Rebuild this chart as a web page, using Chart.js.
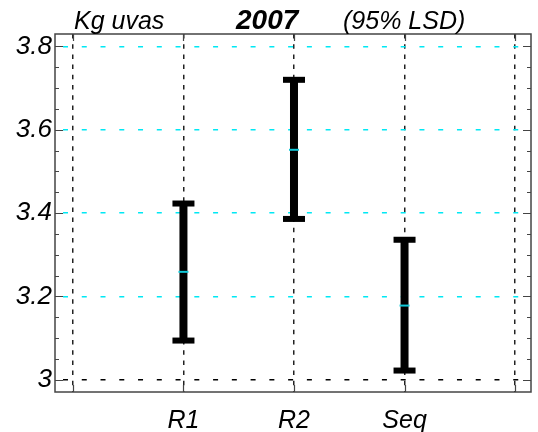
<!DOCTYPE html>
<html>
<head>
<meta charset="utf-8">
<script src="https://cdn.jsdelivr.net/npm/chart.js@4/dist/chart.umd.min.js"></script>
<style>
  html, body { margin: 0; padding: 0; background: #fff; }
  #wrap { width: 538px; height: 432px; }
</style>
</head>
<body>
<div id="wrap"><canvas id="chart" width="538" height="432"></canvas></div>
<script>
// treatment groups and their LSD intervals (kg of grapes)
const categories = ['R1', 'R2', 'Seq'];
const means = [3.259, 3.552, 3.178];
const lower = [3.094, 3.386, 3.022];
const upper = [3.423, 3.720, 3.336];

// axis positions: one vertical line per slot, outer ones unlabeled
const xTickValues = [0, 1, 2, 3, 4];
const xTickLabels = ['', 'R1', 'R2', 'Seq', ''];
const yTickValues = [3, 3.2, 3.4, 3.6, 3.8];
const yTickLabels = ['3', '3.2', '3.4', '3.6', '3.8'];

const FONT = "'Liberation Sans', Arial, sans-serif";
const CYAN = '#00e8f4';

// frame, inward tick marks and the LSD bars themselves
const lsdPlugin = {
  id: 'lsd',
  beforeDatasetsDraw(chart) {
    const { ctx, scales: { x, y } } = chart;
    ctx.save();
    ctx.fillStyle = '#000';
    ctx.strokeStyle = '#000';
    for (let i = 0; i < categories.length; i++) {
      const px = x.getPixelForValue(i + 1);
      const yt = y.getPixelForValue(upper[i]);
      const yb = y.getPixelForValue(lower[i]);
      ctx.lineWidth = 8;
      ctx.beginPath();
      ctx.moveTo(px, yt);
      ctx.lineTo(px, yb);
      ctx.stroke();
      ctx.fillRect(px - 11, yt - 3, 22, 6);
      ctx.fillRect(px - 11, yb - 3, 22, 6);
    }
    ctx.restore();
  },
  afterDraw(chart) {
    const { ctx, chartArea: a, scales: { x, y } } = chart;
    ctx.save();
    ctx.strokeStyle = '#444';
    ctx.lineWidth = 1.5;
    ctx.strokeRect(a.left, a.top, a.right - a.left, a.bottom - a.top);
    ctx.lineWidth = 1.2;
    ctx.beginPath();
    for (let k = 0; k <= 16; k++) {
      const v = 3 + k * 0.05;
      const py = Math.round(y.getPixelForValue(v)) + 0.5;
      const len = k % 4 === 0 ? 8 : 4;
      ctx.moveTo(a.left, py); ctx.lineTo(a.left + len, py);
      ctx.moveTo(a.right, py); ctx.lineTo(a.right - len, py);
    }
    xTickValues.forEach(v => {
      const px = Math.round(x.getPixelForValue(v)) + 0.5;
      ctx.moveTo(px, a.bottom); ctx.lineTo(px, a.bottom - 7);
      ctx.moveTo(px, a.top); ctx.lineTo(px, a.top + 7);
    });
    ctx.stroke();

    // heading: label, year, interval note
    ctx.fillStyle = '#000';
    ctx.textBaseline = 'alphabetic';
    ctx.textAlign = 'left';
    ctx.font = 'italic 25px ' + FONT;
    ctx.fillText('Kg uvas', 74, 29);
    ctx.font = 'italic bold 28px ' + FONT;
    ctx.fillText('2007', 236, 29);
    ctx.font = 'italic 25px ' + FONT;
    ctx.fillText('(95% LSD)', 343, 29);
    ctx.restore();
  }
};

const ctx = document.getElementById('chart').getContext('2d');
new Chart(ctx, {
  type: 'scatter',
  data: {
    datasets: [{
      label: 'media',
      data: means.map((m, i) => ({ x: i + 1, y: m })),
      pointStyle: 'line',
      radius: 5,
      borderColor: '#10c8d8',
      borderWidth: 2
    }]
  },
  options: {
    responsive: false,
    animation: false,
    devicePixelRatio: 1,
    layout: { padding: { top: 34, right: 5, left: 0, bottom: 0 } },
    plugins: { legend: { display: false }, tooltip: { enabled: false } },
    scales: {
      x: {
        type: 'linear',
        min: -0.162,
        max: 4.144,
        afterBuildTicks: s => { s.ticks = xTickValues.map(v => ({ value: v })); },
        afterFit: s => { s.height = 40; },
        ticks: {
          autoSkip: false,
          maxRotation: 0,
          padding: 14,
          color: '#000',
          font: { family: FONT, size: 25, style: 'italic' },
          callback: v => xTickLabels[xTickValues.indexOf(v)]
        },
        grid: { color: '#222', lineWidth: 1.5, drawTicks: false },
        border: { display: false, dash: [4.5, 5.7] }
      },
      y: {
        type: 'linear',
        min: 2.9705,
        max: 3.830,
        afterBuildTicks: s => { s.ticks = yTickValues.map(v => ({ value: v })); },
        afterFit: s => { s.width = 55; },
        ticks: {
          padding: 3,
          color: '#000',
          font: { family: FONT, size: 26, style: 'italic' },
          callback: v => yTickLabels[yTickValues.indexOf(v)]
        },
        grid: {
          color: c => (c.index === 0 ? '#000' : CYAN),
          lineWidth: 1.4,
          drawTicks: false
        },
        border: { display: false, dash: [5, 13.76], dashOffset: 10.76 }
      }
    }
  },
  plugins: [lsdPlugin]
});
</script>
</body>
</html>
